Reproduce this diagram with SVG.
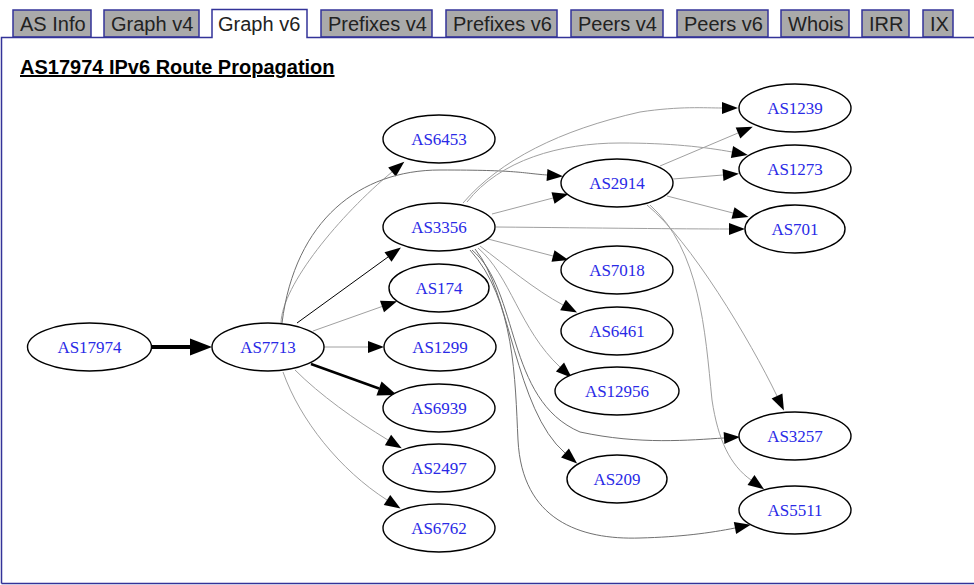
<svg xmlns="http://www.w3.org/2000/svg" width="974" height="585" viewBox="0 0 974 585">
<style>
.tab{fill:#aaaaaa;stroke:#333399;stroke-width:1.5}
.tabt{font-family:"Liberation Sans",Arial,sans-serif;font-size:20px;fill:#222}
.panel{stroke:#333399;stroke-width:1.5;fill:none}
.n ellipse{fill:#fff;stroke:#000;stroke-width:1.4}
.n text{font-family:"Liberation Serif","Times New Roman",serif;font-size:17px;fill:#2a2ae6;text-anchor:middle}
.e{fill:none;stroke:#a0a0a0;stroke-width:1;marker-end:url(#ah)}
.e.d{stroke:#707070}
.e.k{stroke:#000}
</style>
<defs>
<marker id="ah" markerUnits="userSpaceOnUse" markerWidth="16" markerHeight="12" viewBox="0 -6 16 12" refX="0" refY="0" orient="auto" overflow="visible"><path d="M0,-6 L16,0 L0,6 z" fill="#000"/></marker>
<marker id="ahm" markerUnits="userSpaceOnUse" markerWidth="19" markerHeight="15" viewBox="0 -7.5 19 15" refX="0" refY="0" orient="auto" overflow="visible"><path d="M0,-7.5 L19,0 L0,7.5 z" fill="#000"/></marker>
<marker id="ahb" markerUnits="userSpaceOnUse" markerWidth="22" markerHeight="17" viewBox="0 -8.5 22 17" refX="0" refY="0" orient="auto" overflow="visible"><path d="M0,-8.5 L22,0 L0,8.5 z" fill="#000"/></marker>
</defs>
<rect x="0" y="0" width="974" height="585" fill="#fff"/>
<g id="tabs">
<rect class="tab" x="13" y="10" width="78" height="27"/><text class="tabt" x="20" y="31">AS Info</text>
<rect class="tab" x="104" y="10" width="95" height="27"/><text class="tabt" x="111" y="31">Graph v4</text>
<rect class="tab" x="321" y="10" width="111" height="27"/><text class="tabt" x="328" y="31">Prefixes v4</text>
<rect class="tab" x="446" y="10" width="111" height="27"/><text class="tabt" x="453" y="31">Prefixes v6</text>
<rect class="tab" x="571" y="10" width="92" height="27"/><text class="tabt" x="578" y="31">Peers v4</text>
<rect class="tab" x="677" y="10" width="91" height="27"/><text class="tabt" x="684" y="31">Peers v6</text>
<rect class="tab" x="781" y="10" width="68" height="27"/><text class="tabt" x="788" y="31">Whois</text>
<rect class="tab" x="862" y="10" width="47" height="27"/><text class="tabt" x="869" y="31">IRR</text>
<rect class="tab" x="923" y="10" width="30" height="27"/><text class="tabt" x="930" y="31">IX</text>
</g>
<path class="panel" d="M1.5,583.5 L1.5,37.5 L212,37.5 L212,9.5 L307,9.5 L307,37.5 L974,37.5"/>
<path class="panel" d="M1.5,583.5 L974,583.5"/>
<text x="218" y="31" style="font-family:'Liberation Sans',Arial,sans-serif;font-size:20px;fill:#222">Graph v6</text>
<text x="20" y="74" style="font-family:'Liberation Sans',Arial,sans-serif;font-size:20px;font-weight:bold;fill:#000" text-decoration="underline">AS17974 IPv6 Route Propagation</text>

<g id="edges">
<path class="e k" d="M152,347 L190,347" style="stroke-width:4;marker-end:url(#ahb)"/>
<path class="e" d="M324,347 L368,347"/>
<path class="e" d="M313,331 L382,306.5"/>
<path class="e k" d="M297,323 L388,257"/>
<path class="e" d="M281,323 C282,285 340,215 392,172"/>
<path class="e d" d="M282,323 C295,220 360,170 440,170 S520,173 547,175"/>
<path class="e k" d="M311,364 L379,388.5" style="stroke-width:2.5;marker-end:url(#ahm)"/>
<path class="e" d="M295,370 C320,395 355,420 388,440"/>
<path class="e" d="M283,372 C300,420 340,470 387,500"/>
<path class="e" d="M492,214 L553,198"/>
<path class="e" d="M496,227 C600,228 680,229 729,229"/>
<path class="e" d="M488,239 L553,256"/>
<path class="e" d="M480,246 C505,265 535,290 563,305"/>
<path class="e" d="M478,248 C510,275 520,330 560,367"/>
<path class="e d" d="M475,249 C510,290 515,410 565,453"/>
<path class="e d" d="M472,250 C520,290 505,400 580,432 C640,445 690,440 724,438"/>
<path class="e d" d="M470,250 C515,300 515,380 518,440 C522,520 580,540 640,538 C680,537 710,533 735,528"/>
<path class="e" d="M463,203 C500,160 560,130 640,112 C680,106 705,108 722,108"/>
<path class="e" d="M467,202 C500,160 560,143 620,143 C670,143 705,147 732,152"/>
<path class="e" d="M660,166 L738,133"/>
<path class="e" d="M673,179 L723,175"/>
<path class="e" d="M667,196 L733,213"/>
<path class="e" d="M647,205 C690,240 750,340 777,396"/>
<path class="e" d="M650,205 C700,250 705,330 712,400 C718,440 730,465 751,480"/>
</g>

<g id="AS17974" class="n"><ellipse cx="89.5" cy="347" rx="62" ry="24"/><text x="89.5" y="353">AS17974</text></g>
<g id="AS7713" class="n"><ellipse cx="268" cy="347" rx="56" ry="24"/><text x="268" y="353">AS7713</text></g>
<g id="AS6453" class="n"><ellipse cx="439" cy="139" rx="56" ry="24"/><text x="439" y="145">AS6453</text></g>
<g id="AS3356" class="n"><ellipse cx="439" cy="227" rx="56" ry="24"/><text x="439" y="233">AS3356</text></g>
<g id="AS174" class="n"><ellipse cx="439" cy="288" rx="50" ry="24"/><text x="439" y="294">AS174</text></g>
<g id="AS1299" class="n"><ellipse cx="440" cy="347" rx="56" ry="24"/><text x="440" y="353">AS1299</text></g>
<g id="AS6939" class="n"><ellipse cx="439" cy="408" rx="56" ry="24"/><text x="439" y="414">AS6939</text></g>
<g id="AS2497" class="n"><ellipse cx="439" cy="468" rx="56" ry="24"/><text x="439" y="474">AS2497</text></g>
<g id="AS6762" class="n"><ellipse cx="439" cy="528" rx="56" ry="24"/><text x="439" y="534">AS6762</text></g>
<g id="AS2914" class="n"><ellipse cx="617" cy="183" rx="56" ry="24"/><text x="617" y="189">AS2914</text></g>
<g id="AS7018" class="n"><ellipse cx="617" cy="270" rx="56" ry="24"/><text x="617" y="276">AS7018</text></g>
<g id="AS6461" class="n"><ellipse cx="617" cy="331" rx="56" ry="24"/><text x="617" y="337">AS6461</text></g>
<g id="AS12956" class="n"><ellipse cx="617" cy="391" rx="62" ry="24"/><text x="617" y="397">AS12956</text></g>
<g id="AS209" class="n"><ellipse cx="617" cy="479" rx="50" ry="24"/><text x="617" y="485">AS209</text></g>
<g id="AS1239" class="n"><ellipse cx="795" cy="108" rx="56" ry="24"/><text x="795" y="114">AS1239</text></g>
<g id="AS1273" class="n"><ellipse cx="795" cy="169" rx="56" ry="24"/><text x="795" y="175">AS1273</text></g>
<g id="AS701" class="n"><ellipse cx="795" cy="229" rx="50" ry="24"/><text x="795" y="235">AS701</text></g>
<g id="AS3257" class="n"><ellipse cx="795" cy="436" rx="56" ry="24"/><text x="795" y="442">AS3257</text></g>
<g id="AS5511" class="n"><ellipse cx="795" cy="510" rx="56" ry="24"/><text x="795" y="516">AS5511</text></g>
</svg>
